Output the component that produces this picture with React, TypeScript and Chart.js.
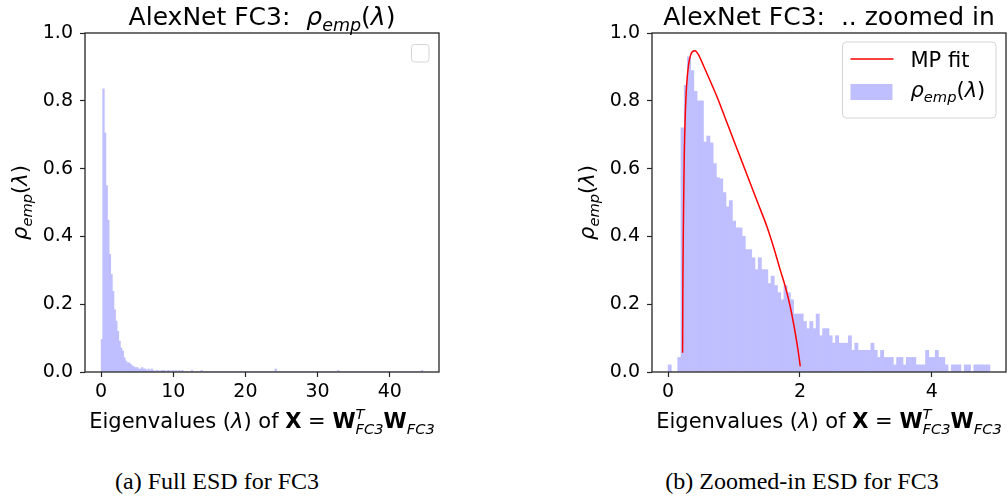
import React, { useEffect, useRef } from 'react';
import { Chart, registerables } from 'chart.js';

Chart.register(...registerables);

const FONT = '"DejaVu Sans", sans-serif';
const BAR_COLOR = '#bfbfff';
const LINE_COLOR = '#ff0000';
const AXIS_COLOR = '#262626';

// ---- Left panel: full ESD histogram (200 bins of width 0.223 starting at 0) ----
const fullBinStart = 0;
const fullBinWidth = 0.223;
const fullDensity = [
  0.096, 0.835, 0.705, 0.55, 0.448, 0.347, 0.288, 0.238, 0.184, 0.15,
  0.12, 0.091, 0.071, 0.062, 0.042, 0.032, 0.027, 0.027, 0.022, 0.018,
  0.015, 0.013, 0.013, 0.009, 0.009, 0.013, 0.009, 0.009, 0.0045, 0.009,
  0.0045, 0.009, 0.0045, 0, 0.0045, 0.0045, 0, 0.0045, 0.0045, 0.0045,
  0, 0.0045, 0.0045, 0, 0.0045, 0, 0.0045, 0, 0.0045, 0,
  0.0045, 0, 0, 0, 0, 0, 0.0045, 0, 0, 0,
  0, 0, 0.0045, 0, 0, 0, 0, 0, 0, 0,
  0, 0, 0, 0, 0, 0, 0, 0, 0, 0,
  0, 0, 0, 0, 0, 0, 0, 0, 0, 0,
  0, 0, 0, 0, 0, 0, 0, 0, 0, 0,
  0, 0, 0, 0, 0, 0, 0, 0, 0.009, 0,
  0, 0, 0, 0, 0, 0, 0, 0, 0, 0,
  0, 0, 0, 0, 0, 0, 0, 0, 0, 0,
  0, 0, 0, 0, 0, 0, 0, 0, 0, 0,
  0, 0, 0, 0, 0, 0, 0, 0.0045, 0, 0,
  0, 0, 0, 0, 0, 0, 0, 0, 0, 0,
  0, 0, 0, 0, 0, 0, 0, 0, 0, 0,
  0, 0, 0, 0, 0, 0, 0, 0, 0, 0,
  0, 0, 0, 0, 0, 0, 0, 0, 0, 0,
  0, 0, 0, 0, 0, 0, 0, 0, 0, 0.0045,
];

// ---- Right panel: zoomed-in histogram (100 bins of width 0.0488 starting at 0) ----
const zoomBinStart = 0;
const zoomBinWidth = 0.0488;
const zoomDensity = [
  0.021, 0, 0, 0.043, 0.72, 0.846, 0.93, 0.889, 0.828, 0.8,
  0.8, 0.678, 0.696, 0.676, 0.615, 0.573, 0.57, 0.529, 0.487, 0.506,
  0.445, 0.425, 0.425, 0.4, 0.361, 0.361, 0.337, 0.302, 0.337, 0.302,
  0.302, 0.261, 0.283, 0.255, 0.234, 0.213, 0.255, 0.234, 0.213, 0.171,
  0.171, 0.171, 0.149, 0.128, 0.149, 0.128, 0.171, 0.107, 0.128, 0.128,
  0.107, 0.085, 0.107, 0.085, 0.085, 0.085, 0.107, 0.064, 0.085, 0.064,
  0.064, 0.064, 0.064, 0.085, 0.064, 0.043, 0.064, 0.043, 0.043, 0.043,
  0.021, 0.043, 0.043, 0.021, 0.043, 0.043, 0.043, 0.021, 0.021, 0.021,
  0.064, 0.043, 0.043, 0.064, 0.043, 0.043, 0.021, 0, 0.021, 0.021,
  0.021, 0, 0.021, 0.021, 0, 0.021, 0.021, 0.021, 0.021, 0.021,
];

// ---- Marchenko-Pastur fit curve ----
const mpX = [
  0.22, 0.222, 0.225, 0.23, 0.235, 0.245, 0.26, 0.28, 0.31, 0.357,
  0.408, 0.458, 0.534, 0.636, 0.737, 0.864, 0.99, 1.117, 1.243, 1.37,
  1.497, 1.6, 1.699, 1.78, 1.851, 1.91, 1.953, 1.985, 2.004,
];
const mpY = [
  0.057, 0.17, 0.29, 0.4, 0.49, 0.637, 0.755, 0.843, 0.905, 0.942,
  0.948, 0.937, 0.905, 0.86, 0.814, 0.75, 0.686, 0.622, 0.558, 0.494,
  0.43, 0.368, 0.302, 0.25, 0.194, 0.135, 0.086, 0.045, 0.017,
];

const fullXTicks = [0, 10, 20, 30, 40];
const zoomXTicks = [0, 2, 4];
const yTicks = [0, 0.2, 0.4, 0.6, 0.8, 1.0];

const leftTitle = 'AlexNet FC3:  ';
const rightTitle = 'AlexNet FC3:  .. zoomed in';
const captionA = '(a) Full ESD for FC3';
const captionB = '(b) Zoomed-in ESD for FC3';
const legendLine = 'MP fit';

type Seg = { t: string; it?: boolean; b?: boolean; sc?: number; dy?: number; stack?: boolean };

const rhoSegs: Seg[] = [
  { t: 'ρ', it: true },
  { t: 'emp', it: true, sc: 0.7, dy: 0.22 },
  { t: '(' },
  { t: 'λ', it: true },
  { t: ')' },
];

const xLabelSegs: Seg[] = [
  { t: 'Eigenvalues (' },
  { t: 'λ', it: true },
  { t: ') of ' },
  { t: 'X', b: true },
  { t: ' = ' },
  { t: 'W', b: true },
  { t: 'T', it: true, sc: 0.7, dy: -0.45 },
  { t: 'FC3', it: true, sc: 0.7, dy: 0.28, stack: true },
  { t: 'W', b: true },
  { t: 'FC3', it: true, sc: 0.7, dy: 0.28 },
];

function fontOf(s: Seg, size: number) {
  return `${s.it ? 'italic ' : ''}${s.b ? 'bold ' : ''}${size * (s.sc || 1)}px ${FONT}`;
}

function drawRich(ctx: CanvasRenderingContext2D, segs: Seg[], size: number, cx: number, baseline: number, align: 'center' | 'left' = 'center') {
  let x = 0;
  let prevStart = 0;
  const items: { s: Seg; x: number }[] = [];
  for (const s of segs) {
    ctx.font = fontOf(s, size);
    const w = ctx.measureText(s.t).width;
    const start = s.stack ? prevStart : x;
    items.push({ s, x: start });
    if (s.stack) {
      x = Math.max(x, start + w);
    } else {
      prevStart = start;
      x = start + w;
    }
  }
  const x0 = align === 'center' ? cx - x / 2 : cx;
  ctx.textAlign = 'left';
  ctx.textBaseline = 'alphabetic';
  ctx.fillStyle = '#000';
  for (const it of items) {
    ctx.font = fontOf(it.s, size);
    ctx.fillText(it.s.t, x0 + it.x, baseline + (it.s.dy || 0) * size);
  }
}

function roundRect(ctx: CanvasRenderingContext2D, x: number, y: number, w: number, h: number, r: number) {
  ctx.beginPath();
  ctx.moveTo(x + r, y);
  ctx.lineTo(x + w - r, y);
  ctx.quadraticCurveTo(x + w, y, x + w, y + r);
  ctx.lineTo(x + w, y + h - r);
  ctx.quadraticCurveTo(x + w, y + h, x + w - r, y + h);
  ctx.lineTo(x + r, y + h);
  ctx.quadraticCurveTo(x, y + h, x, y + h - r);
  ctx.lineTo(x, y + r);
  ctx.quadraticCurveTo(x, y, x + r, y);
  ctx.closePath();
}

function makeDecor(kind: 'full' | 'zoom') {
  return {
    id: 'decor_' + kind,
    afterDatasetsDraw(chart: any) {
      const { ctx, chartArea: ca } = chart;
      ctx.save();
      ctx.strokeStyle = AXIS_COLOR;
      ctx.lineWidth = 1.3;
      ctx.strokeRect(ca.left, ca.top, ca.right - ca.left, ca.bottom - ca.top);
      ctx.restore();
    },
    afterDraw(chart: any) {
      const { ctx, chartArea: ca } = chart;
      const cx = (ca.left + ca.right) / 2;
      const cy = (ca.top + ca.bottom) / 2;
      ctx.save();
      if (kind === 'full') {
        drawRich(ctx, [{ t: leftTitle }, ...rhoSegs], 25, cx, 25);
      } else {
        drawRich(ctx, [{ t: rightTitle }], 25, cx, 25);
      }
      drawRich(ctx, xLabelSegs, 21, cx, 428);
      ctx.save();
      ctx.translate(ca.left - 58 - 21 * 0.3, cy);
      ctx.rotate(-Math.PI / 2);
      drawRich(ctx, rhoSegs, 21, 0, 21 * 0.3);
      ctx.restore();
      if (kind === 'full') {
        const w = 17.5, h = 17.5;
        const x = ca.right - 10 - w, y = ca.top + 11.5;
        roundRect(ctx, x, y, w, h, 3);
        ctx.fillStyle = 'rgba(255,255,255,0.8)';
        ctx.fill();
        ctx.strokeStyle = '#d5d5d5';
        ctx.lineWidth = 1;
        ctx.stroke();
      } else {
        const x = ca.right - 163.5, y = ca.top + 9;
        roundRect(ctx, x, y, 153.5, 76, 4);
        ctx.fillStyle = 'rgba(255,255,255,0.8)';
        ctx.fill();
        ctx.strokeStyle = '#d5d5d5';
        ctx.lineWidth = 1;
        ctx.stroke();
        ctx.strokeStyle = LINE_COLOR;
        ctx.lineWidth = 1.5;
        ctx.beginPath();
        ctx.moveTo(x + 8, y + 17);
        ctx.lineTo(x + 51, y + 17);
        ctx.stroke();
        ctx.fillStyle = '#000';
        ctx.font = `21px ${FONT}`;
        ctx.textAlign = 'left';
        ctx.textBaseline = 'alphabetic';
        ctx.fillText(legendLine, x + 68, y + 24.5);
        ctx.fillStyle = BAR_COLOR;
        ctx.fillRect(x + 8, y + 42, 42, 16);
        drawRich(ctx, rhoSegs, 21, x + 68, y + 55, 'left');
      }
      ctx.restore();
    },
  };
}

function axisOptions(xMin: number, xMax: number, xTicks: number[], yWidth: number) {
  return {
    x: {
      type: 'linear',
      min: xMin,
      max: xMax,
      offset: false,
      bounds: 'data',
      grid: {
        display: true,
        offset: false,
        drawOnChartArea: false,
        drawTicks: true,
        tickLength: 5,
        tickWidth: 1.2,
        tickColor: AXIS_COLOR,
      },
      border: { display: false },
      ticks: {
        autoSkip: false,
        maxRotation: 0,
        padding: 4,
        color: '#000',
        font: { family: FONT, size: 19 },
        callback: (v: any) => String(v),
      },
      afterBuildTicks: (s: any) => {
        s.ticks = xTicks.map((v) => ({ value: v }));
      },
      afterFit: (s: any) => {
        s.height = 50;
      },
    },
    y: {
      type: 'linear',
      min: 0,
      max: 1,
      bounds: 'data',
      grid: {
        display: true,
        drawOnChartArea: false,
        drawTicks: true,
        tickLength: 5,
        tickWidth: 1.2,
        tickColor: AXIS_COLOR,
      },
      border: { display: false },
      ticks: {
        autoSkip: false,
        padding: 7,
        color: '#000',
        font: { family: FONT, size: 19 },
        callback: (v: any) => Number(v).toFixed(1),
      },
      afterBuildTicks: (s: any) => {
        s.ticks = yTicks.map((v) => ({ value: v }));
      },
      afterFit: (s: any) => {
        s.width = yWidth;
      },
    },
  };
}

export default function App() {
  const leftRef = useRef<HTMLCanvasElement>(null);
  const rightRef = useRef<HTMLCanvasElement>(null);

  useEffect(() => {
    const fullBars = fullDensity.map((v, i) => ({ x: fullBinStart + (i + 0.5) * fullBinWidth, y: v }));
    const zoomBars = zoomDensity.map((v, i) => ({ x: zoomBinStart + (i + 0.5) * zoomBinWidth, y: v }));
    const mpPoints = mpX.map((x, i) => ({ x, y: mpY[i] }));

    const left = new Chart(leftRef.current as HTMLCanvasElement, {
      type: 'bar',
      data: {
        datasets: [
          {
            type: 'bar',
            label: 'ρemp(λ)',
            data: fullBars as any,
            backgroundColor: BAR_COLOR,
            borderWidth: 0,
            barPercentage: 1,
            categoryPercentage: 1,
            grouped: false,
          },
        ],
      },
      options: {
        responsive: false,
        animation: false,
        events: [],
        layout: { padding: { left: 0, top: 33, right: 65, bottom: 23 } },
        plugins: { legend: { display: false }, tooltip: { enabled: false }, title: { display: false } },
        scales: axisOptions(-2.23, 46.83, fullXTicks, 85) as any,
      },
      plugins: [makeDecor('full')],
    });

    const right = new Chart(rightRef.current as HTMLCanvasElement, {
      type: 'bar',
      data: {
        datasets: [
          {
            type: 'line',
            label: 'MP fit',
            data: mpPoints as any,
            borderColor: LINE_COLOR,
            borderWidth: 1.5,
            pointRadius: 0,
            fill: false,
            cubicInterpolationMode: 'monotone',
            order: 0,
          } as any,
          {
            type: 'bar',
            label: 'ρemp(λ)',
            data: zoomBars as any,
            backgroundColor: BAR_COLOR,
            borderWidth: 0,
            barPercentage: 1,
            categoryPercentage: 1,
            grouped: false,
            order: 1,
          },
        ],
      },
      options: {
        responsive: false,
        animation: false,
        events: [],
        layout: { padding: { left: 0, top: 33, right: 2, bottom: 23 } },
        plugins: { legend: { display: false }, tooltip: { enabled: false }, title: { display: false } },
        scales: axisOptions(-0.244, 5.124, zoomXTicks, 148) as any,
      },
      plugins: [makeDecor('zoom')],
    });

    return () => {
      left.destroy();
      right.destroy();
    };
  }, []);

  const captionStyle: React.CSSProperties = {
    position: 'absolute',
    top: 470,
    fontFamily: '"Liberation Serif", serif',
    fontSize: 24,
    lineHeight: '22px',
    whiteSpace: 'nowrap',
    textAlign: 'center',
    color: '#000',
  };

  return (
    <div style={{ position: 'absolute', left: 0, top: 0, width: 1008, height: 501, background: '#fff', overflow: 'hidden' }}>
      <canvas ref={leftRef} width={504} height={445} style={{ position: 'absolute', left: 0, top: 0, width: 504, height: 445 }} />
      <canvas ref={rightRef} width={504} height={445} style={{ position: 'absolute', left: 504, top: 0, width: 504, height: 445 }} />
      <div style={{ ...captionStyle, left: 67, width: 300 }}>{captionA}</div>
      <div style={{ ...captionStyle, left: 652, width: 300 }}>{captionB}</div>
    </div>
  );
}
